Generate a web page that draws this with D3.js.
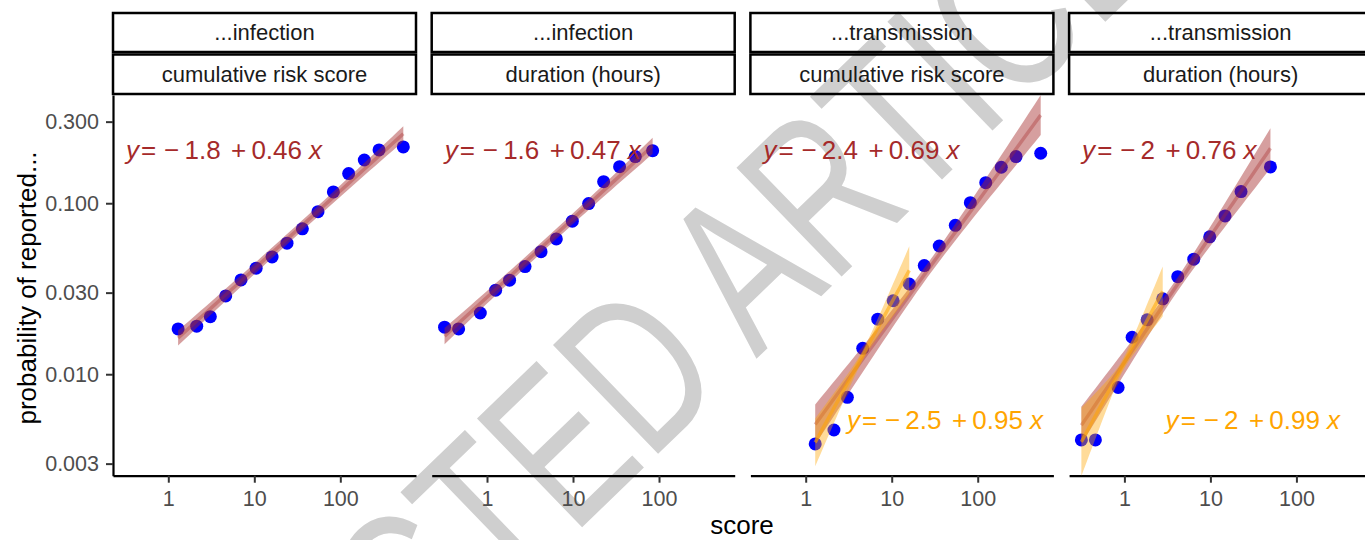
<!DOCTYPE html>
<html>
<meta charset="utf-8">
<head>
  <title>Probability of reported infection / transmission vs score</title>
</head>

<style>
body { margin: 0; background: white; }
text {
  font-family: "Liberation Sans", Arial, Helvetica, sans-serif;
}
.strip text { font-size: 22px; fill: #1a1a1a; }
.tick text { font-size: 21.5px; fill: #4d4d4d; }
</style>

<body>
  <svg width="1365" height="540"></svg>

  <script src="https://cdnjs.cloudflare.com/ajax/libs/d3/7.8.5/d3.min.js"></script>
  <script>

// facet strips
var stripTop = ["...infection", "...infection", "...transmission", "...transmission"];
var stripBottom = ["cumulative risk score", "duration (hours)", "cumulative risk score", "duration (hours)"];

// axis ticks
var xTicks = [1, 10, 100];
var yTicks = [0.003, 0.01, 0.03, 0.1, 0.3];

// points, one pair of arrays per panel
var infRiskX = [1.30, 2.14, 3.08, 4.65, 7.0, 10.5, 16.1, 24.0, 36.2, 55.0, 83, 125, 190, 282, 540];
var infRiskY = [0.0184, 0.0191, 0.0217, 0.0287, 0.0356, 0.0417, 0.0485, 0.0584, 0.0708, 0.0893, 0.1164, 0.149, 0.179, 0.205, 0.2135];
var infDurX = [0.321, 0.468, 0.836, 1.26, 1.83, 2.77, 4.25, 6.40, 9.82, 15.2, 22.7, 34.8, 53.0, 84.3];
var infDurY = [0.01884, 0.0184, 0.0228, 0.0310, 0.0355, 0.0426, 0.0521, 0.0618, 0.0785, 0.0995, 0.1337, 0.1636, 0.1874, 0.203];
var trRiskX = [1.29, 2.13, 3.05, 4.60, 6.88, 10.4, 16.0, 23.9, 35.7, 54.9, 82.1, 124, 188, 279, 540];
var trRiskY = [0.00391, 0.00472, 0.00733, 0.01418, 0.0210, 0.0269, 0.0337, 0.0432, 0.0562, 0.0743, 0.1008, 0.1319, 0.1624, 0.1875, 0.196];
var trDurX = [0.316, 0.460, 0.845, 1.23, 1.84, 2.79, 4.17, 6.40, 9.82, 14.8, 22.7, 49.9];
var trDurY = [0.00413, 0.00413, 0.00836, 0.01645, 0.0208, 0.0276, 0.0372, 0.0471, 0.0636, 0.0843, 0.117, 0.163];

var panelX = [infRiskX, infDurX, trRiskX, trDurX];
var panelY = [infRiskY, infDurY, trRiskY, trDurY];

// log10 fits: a + b*log10(score); last = index of last point covered; w = band half width (log10) left/mid/right
var redFits = [
  {a: -1.84, b: 0.456, last: 14, w: [0.044, 0.03, 0.044]},
  {a: -1.55, b: 0.46,  last: 13, w: [0.047, 0.03, 0.047]},
  {a: -2.37, b: 0.69,  last: 14, w: [0.117, 0.04, 0.117]},
  {a: -1.93, b: 0.737, last: 11, w: [0.11, 0.04, 0.117]}
];
var orangeFits = [null, null,
  {a: -2.5,  b: 0.92, last: 6, w: [0.14, 0.03, 0.14]},
  {a: -1.93, b: 0.93, last: 5, w: [0.2, 0.035, 0.146]}
];

// printed equations
var redEqA = [-1.8, -1.6, -2.4, -2];
var redEqB = [0.46, 0.47, 0.69, 0.76];
var orangeEqA = [null, null, -2.5, -2];
var orangeEqB = [null, null, 0.95, 0.99];

var RED = '#a52a2a', ORANGE = '#ffa500';

var svg = d3.select('svg');

// watermark under everything
svg.append('text')
  .attr('transform', 'translate(635,476) rotate(-44) scale(0.72,1)')
  .attr('text-anchor', 'middle')
  .attr('font-size', 220)
  .attr('fill', '#cfcfcf')
  .text('RETRACTED ARTICLE');

var left0 = 113, pw = 303, step = 318.7, panelTop = 95, ph = 380.7;

var x = d3.scaleLog().domain([0.2275, 758.6]).range([0, pw]);
var y = d3.scaleLog().domain([0.00255, 0.4295]).range([ph, 0]);

function band(fit, xs) {
  var l0 = Math.log10(xs[0]), l1 = Math.log10(xs[fit.last]);
  var lc = (l0 + l1) / 2, h = (l1 - l0) / 2;
  var pts = d3.range(41).map(function(k) {
    var lx = l0 + (l1 - l0) * k / 40;
    var t = (lx - lc) / h;
    var we = t < 0 ? fit.w[0] : fit.w[2];
    var w = Math.sqrt(fit.w[1] * fit.w[1] + (we * we - fit.w[1] * fit.w[1]) * t * t);
    var m = fit.a + fit.b * lx;
    return {x: Math.pow(10, lx), m: Math.pow(10, m), lo: Math.pow(10, m - w), hi: Math.pow(10, m + w)};
  });
  return pts;
}

var area = d3.area().x(function(d) { return x(d.x); })
  .y0(function(d) { return y(d.lo); }).y1(function(d) { return y(d.hi); });
var line = d3.line().x(function(d) { return x(d.x); }).y(function(d) { return y(d.m); });

function drawFit(g, fit, xs, col, fillOp, lineOp) {
  var b = band(fit, xs);
  g.append('path').attr('d', area(b)).attr('fill', col).attr('fill-opacity', fillOp);
  g.append('path').attr('d', line(b)).attr('fill', 'none')
    .attr('stroke', col).attr('stroke-opacity', lineOp).attr('stroke-width', 3.5);
}

var fmt = d3.format('~g');
function equation(g, a, b, col, tx, ty) {
  var t = g.append('text').attr('x', tx).attr('y', ty)
    .attr('font-size', 26).attr('fill', col);
  var parts = [
    {s: 'y', it: 1, dx: 0},
    {s: '=', dx: 0.08},
    {s: a < 0 ? '\u2212' : '+', dx: 0.3},
    {s: fmt(Math.abs(a)), dx: 0.2},
    {s: b < 0 ? '\u2212' : '+', dx: 0.4},
    {s: fmt(Math.abs(b)), dx: 0.2},
    {s: 'x', it: 1, dx: 0.27}
  ];
  parts.forEach(function(p) {
    t.append('tspan').attr('dx', p.dx + 'em')
      .attr('font-style', p.it ? 'italic' : null).text(p.s);
  });
}

for (var i = 0; i < 4; i++) {
  var g = svg.append('g').attr('transform', 'translate(' + (left0 + i * step) + ',' + panelTop + ')');

  // strips
  var st = g.append('g').attr('class', 'strip');
  st.append('rect').attr('x', 0).attr('y', -82).attr('width', pw).attr('height', 39)
    .attr('fill', 'none').attr('stroke', 'black').attr('stroke-width', 2.5);
  st.append('rect').attr('x', 0).attr('y', -40.5).attr('width', pw).attr('height', 39.5)
    .attr('fill', 'none').attr('stroke', 'black').attr('stroke-width', 2.5);
  st.append('text').attr('x', pw / 2).attr('y', -62.5).attr('dy', '0.35em')
    .attr('text-anchor', 'middle').text(stripTop[i]);
  st.append('text').attr('x', pw / 2).attr('y', -20.5).attr('dy', '0.35em')
    .attr('text-anchor', 'middle').text(stripBottom[i]);

  // x axis
  var xa = g.append('g').attr('transform', 'translate(0,' + ph + ')')
    .call(d3.axisBottom(x).tickValues(xTicks).tickFormat(d3.format('d'))
      .tickSize(7).tickSizeOuter(0).tickPadding(8));
  xa.select('.domain').attr('stroke', 'black').attr('stroke-width', 2.2);
  xa.selectAll('.tick line').attr('stroke', '#333').attr('stroke-width', 2);
  xa.attr('font-family', null).attr('font-size', null);

  // y axis only on first column
  if (i === 0) {
    var ya = g.append('g')
      .call(d3.axisLeft(y).tickValues(yTicks).tickFormat(d3.format('.3f'))
        .tickSize(7).tickSizeOuter(0).tickPadding(7));
    ya.select('.domain').attr('stroke', 'black').attr('stroke-width', 2.2);
    ya.selectAll('.tick line').attr('stroke', '#333').attr('stroke-width', 2);
    ya.attr('font-family', null).attr('font-size', null);
  }

  // points
  var xs = panelX[i], ys = panelY[i];
  g.selectAll('circle').data(xs).enter().append('circle')
    .attr('cx', function(d) { return x(d); })
    .attr('cy', function(d, k) { return y(ys[k]); })
    .attr('r', 6.5).attr('fill', '#0000ff');

  // fits on top of the points
  drawFit(g, redFits[i], xs, RED, 0.45, 0.35);
  if (orangeFits[i]) drawFit(g, orangeFits[i], xs, ORANGE, 0.4, 0.55);

  equation(g, redEqA[i], redEqB[i], RED, 13, 64);
  if (orangeEqA[i] !== null) equation(g, orangeEqA[i], orangeEqB[i], ORANGE, 96.5, 334);
}

// axis titles
svg.append('text').attr('x', 742).attr('y', 534).attr('text-anchor', 'middle')
  .attr('font-size', 26).attr('fill', 'black').text('score');
svg.append('text').attr('transform', 'translate(36,288) rotate(-90)').attr('text-anchor', 'middle')
  .attr('font-size', 26).attr('fill', 'black').text('probability of reported...');

  </script>
</body>
</html>
